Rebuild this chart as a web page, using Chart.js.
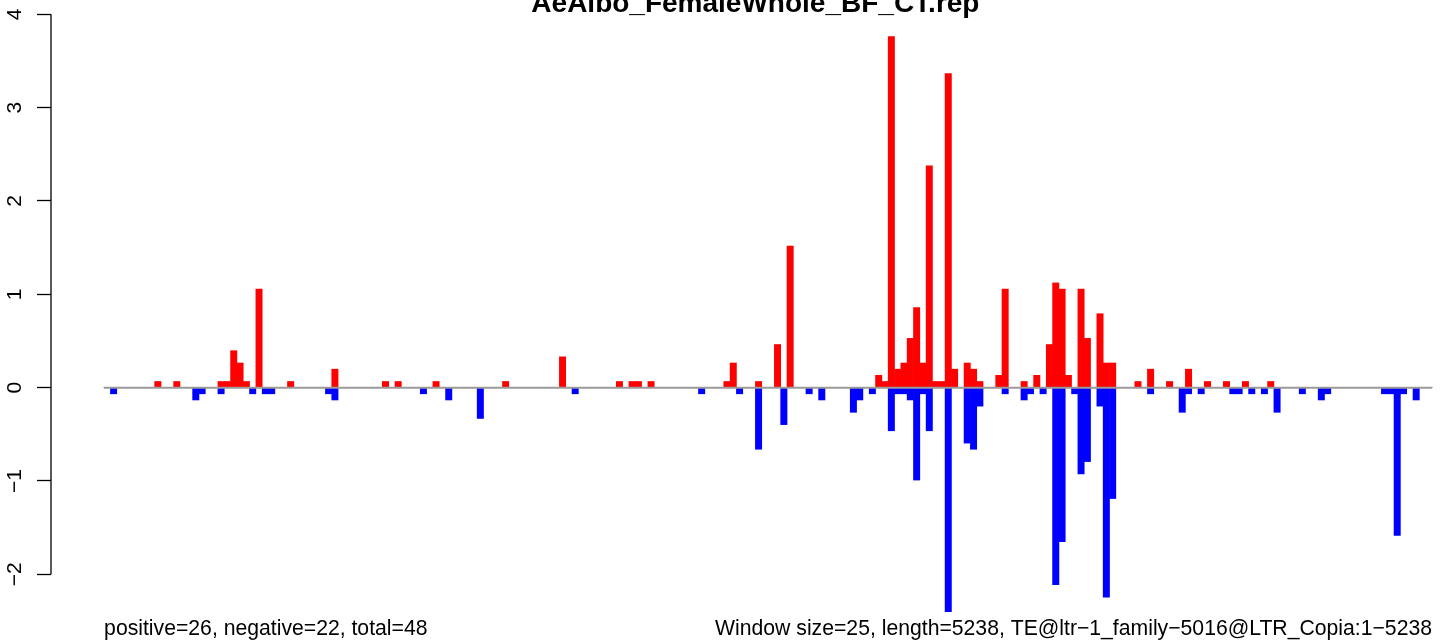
<!DOCTYPE html>
<html>
<head>
<meta charset="utf-8">
<script src="https://cdn.jsdelivr.net/npm/chart.js@4/dist/chart.umd.min.js"></script>
<style>
  html, body { margin: 0; padding: 0; background: #fff; }
  #wrap { width: 1444px; height: 641px; }
</style>
</head>
<body>
<div id="wrap"><canvas id="chart" width="1444" height="641"></canvas></div>
<script>
// 25 bp windows over a 5238 bp element -> 210 windows
const windowSize = 25;
const seqLength = 5238;
const windows = [];
for (let w = 0; w * windowSize < seqLength; w++) windows.push(w);

// positive strand values (red), one per window
const positive = [
  0, 0, 0, 0, 0, 0, 0, 0, .066, 0,
  0, .066, 0, 0, 0, 0, 0, 0, .066, .066,
  .396, .264, .066, 0, 1.056, 0, 0, 0, 0, .066,
  0, 0, 0, 0, 0, 0, .198, 0, 0, 0,
  0, 0, 0, 0, .066, 0, .066, 0, 0, 0,
  0, 0, .066, 0, 0, 0, 0, 0, 0, 0,
  0, 0, 0, .066, 0, 0, 0, 0, 0, 0,
  0, 0, .33, 0, 0, 0, 0, 0, 0, 0,
  0, .066, 0, .066, .066, 0, .066, 0, 0, 0,
  0, 0, 0, 0, 0, 0, 0, 0, .066, .264,
  0, 0, 0, .066, 0, 0, .462, 0, 1.518, 0,
  0, 0, 0, 0, 0, 0, 0, 0, 0, 0,
  0, 0, .132, .066, 3.76, .198, .264, .528, .858, .264,
  2.376, .066, .066, 3.366, .198, 0, .264, .198, .066, 0,
  0, .132, 1.056, 0, 0, .066, 0, .132, 0, .462,
  1.122, 1.056, .132, 0, 1.056, .528, 0, .792, .264, .264,
  0, 0, 0, .066, 0, .198, 0, 0, .066, 0,
  0, .198, 0, 0, .066, 0, 0, .066, 0, 0,
  .066, 0, 0, 0, .066, 0, 0, 0, 0, 0,
  0, 0, 0, 0, 0, 0, 0, 0, 0, 0,
  0, 0, 0, 0, 0, 0, 0, 0, 0, 0
];

// negative strand values (blue)
const negative = [
  0, -.066, 0, 0, 0, 0, 0, 0, 0, 0,
  0, 0, 0, 0, -.132, -.066, 0, 0, -.066, 0,
  0, 0, 0, -.066, 0, -.066, -.066, 0, 0, 0,
  0, 0, 0, 0, 0, -.066, -.132, 0, 0, 0,
  0, 0, 0, 0, 0, 0, 0, 0, 0, 0,
  -.066, 0, 0, 0, -.132, 0, 0, 0, 0, -.33,
  0, 0, 0, 0, 0, 0, 0, 0, 0, 0,
  0, 0, 0, 0, -.066, 0, 0, 0, 0, 0,
  0, 0, 0, 0, 0, 0, 0, 0, 0, 0,
  0, 0, 0, 0, -.066, 0, 0, 0, 0, 0,
  -.066, 0, 0, -.66, 0, 0, 0, -.396, 0, 0,
  0, -.066, 0, -.132, 0, 0, 0, 0, -.264, -.132,
  0, -.066, 0, 0, -.462, -.066, -.066, -.132, -.99, -.066,
  -.462, 0, 0, -2.4, 0, 0, -.594, -.66, -.198, 0,
  0, 0, -.066, 0, 0, -.132, -.066, 0, -.066, 0,
  -2.112, -1.65, 0, -.066, -.924, -.792, 0, -.198, -2.244, -1.188,
  0, 0, 0, 0, 0, -.066, 0, 0, 0, 0,
  -.264, -.066, 0, -.066, 0, 0, 0, 0, -.066, -.066,
  0, -.066, 0, -.066, 0, -.264, 0, 0, 0, -.066,
  0, 0, -.132, -.066, 0, 0, 0, 0, 0, 0,
  0, 0, -.066, -.066, -1.584, -.066, 0, -.132, 0, 0
];

const yTicks = [-2, -1, 0, 1, 2, 3, 4];
const mainTitle = 'AeAlbo_FemaleWhole_BF_CT.rep';
const leftNote = 'positive=26, negative=22, total=48';
const rightNote = 'Window size=25, length=5238, TE@ltr\u22121_family\u22125016@LTR_Copia:1\u22125238';

const FONT = "'Liberation Sans', Arial, Helvetica, sans-serif";

// R-like decorations: axis line, zero line, title, margin notes
const rDecor = {
  id: 'rDecor',
  afterDatasetsDraw(chart) {
    const { ctx, scales: { x, y } } = chart;
    ctx.save();
    // zero line across the windows
    ctx.strokeStyle = '#9a9a9a';
    ctx.lineWidth = 2;
    ctx.beginPath();
    ctx.moveTo(x.getPixelForValue(0), y.getPixelForValue(0));
    ctx.lineTo(x.getPixelForValue(windows.length), y.getPixelForValue(0));
    ctx.stroke();
    // y axis line, only over the tick range
    ctx.strokeStyle = '#000';
    ctx.lineWidth = 1.3;
    ctx.beginPath();
    ctx.moveTo(y.right, y.getPixelForValue(yTicks[0]));
    ctx.lineTo(y.right, y.getPixelForValue(yTicks[yTicks.length - 1]));
    ctx.stroke();
    // title
    ctx.fillStyle = '#000';
    ctx.font = 'bold 28px ' + FONT;
    ctx.textAlign = 'center';
    ctx.textBaseline = 'alphabetic';
    ctx.fillText(mainTitle, x.getPixelForValue(destTitleX), 12);
    // notes under the plot
    ctx.font = '21.2px ' + FONT;
    ctx.textAlign = 'left';
    ctx.fillText(leftNote, x.getPixelForValue(0), 635);
    ctx.textAlign = 'right';
    ctx.fillText(rightNote, x.getPixelForValue(windows.length), 635);
    ctx.restore();
  }
};
// title centre, in window units
const destTitleX = 103;

const toPoints = vals => windows.map((w, i) => ({ x: w + 0.5, y: vals[i] }));

new Chart(document.getElementById('chart'), {
  type: 'bar',
  data: {
    datasets: [
      { label: 'positive', data: toPoints(positive), backgroundColor: '#ff0000', borderWidth: 0, grouped: false, barPercentage: 1, categoryPercentage: 1, clip: false },
      { label: 'negative', data: toPoints(negative), backgroundColor: '#0000ff', borderWidth: 0, grouped: false, barPercentage: 1, categoryPercentage: 1, clip: false }
    ]
  },
  options: {
    responsive: false,
    animation: false,
    events: [],
    layout: { padding: { top: 14.3, bottom: 20, left: 0, right: 0 } },
    plugins: { legend: { display: false }, tooltip: { enabled: false } },
    scales: {
      x: {
        type: 'linear',
        display: false,
        offset: false,
        min: -8.4,
        max: 211.9
      },
      y: {
        min: -2.5,
        max: 4,
        afterFit(scale) {
          scale.width = 51;
          scale.paddingTop = 0;
          scale.paddingBottom = 0;
        },
        afterBuildTicks(scale) { scale.ticks = yTicks.map(v => ({ value: v })); },
        border: { display: false },
        grid: { drawOnChartArea: false, drawTicks: true, tickLength: 14, tickColor: '#000', tickWidth: 1.3 },
        ticks: {
          color: '#000',
          font: { family: FONT, size: 21 },
          minRotation: 90,
          maxRotation: 90,
          crossAlign: 'center',
          padding: 10,
          callback: v => String(v).replace('-', '\u2212')
        }
      }
    }
  },
  plugins: [rDecor]
});
</script>
</body>
</html>
